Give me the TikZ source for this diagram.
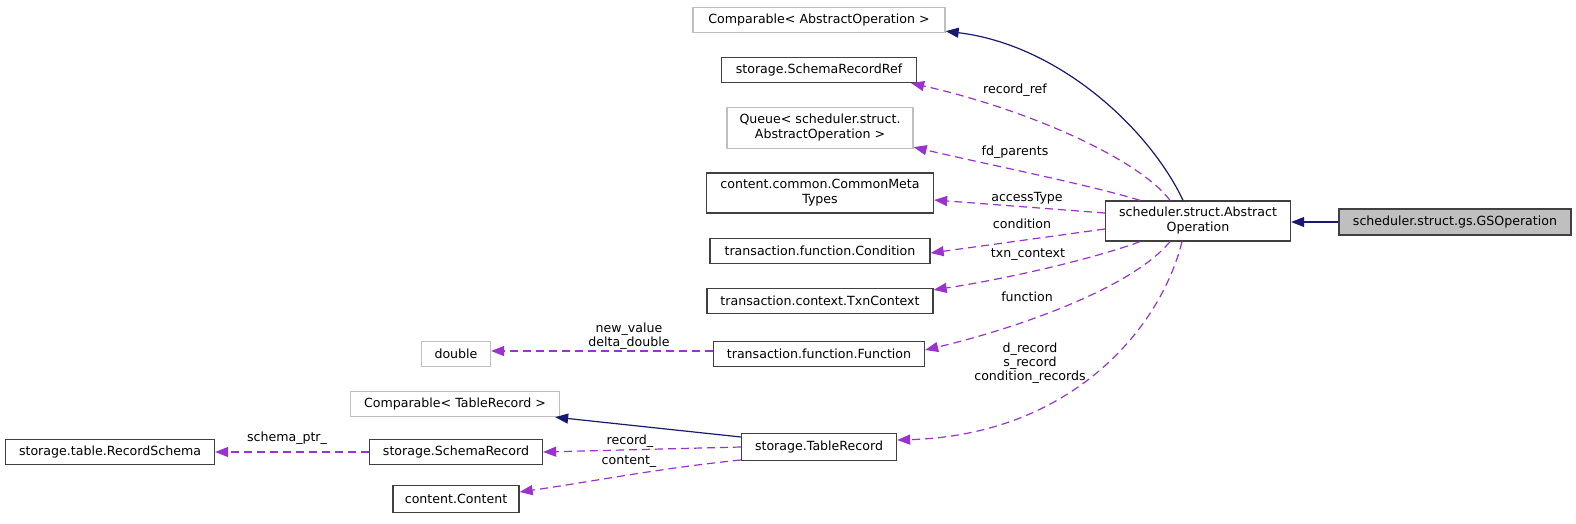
\documentclass[tikz,border=0pt]{standalone}
\usepackage{fontspec}
\setmainfont{DejaVu Sans}
\usetikzlibrary{arrows.meta}

\definecolor{edgenavy}{HTML}{191970}
\definecolor{edgeorchid}{HTML}{9A32CD}
\definecolor{boxgray}{HTML}{BFBFBF}

\begin{document}
\begin{tikzpicture}[
  x=1pt, y=-1pt,
  cls/.style={rectangle, draw=black!75, line width=1.3pt, inner sep=0pt,
              minimum height=25pt, align=center, font=\fontsize{12.6}{15}\selectfont},
  ext/.style={cls, draw=boxgray},
  cur/.style={cls, fill=boxgray},
  lbl/.style={font=\fontsize{12.6}{14}\selectfont, text=black, inner sep=0pt, align=center},
  inh/.style={-{Triangle[length=13pt, width=10pt]}, color=edgenavy, line width=1.2pt},
  use/.style={-{Triangle[length=13pt, width=10pt]}, color=edgeorchid, line width=1.2pt,
              dash pattern=on 8pt off 5pt}
]
\useasboundingbox (0,0) rectangle (1576,523);

% classes
\node[ext, minimum width=252pt] (cao) at (819,20) {Comparable< AbstractOperation >};
\node[cls, minimum width=195pt] (srr) at (819,70) {storage.SchemaRecordRef};
\node[ext, minimum width=186pt, minimum height=41pt] (que) at (820,128) {Queue< scheduler.struct.\\AbstractOperation >};
\node[cls, minimum width=227pt, minimum height=40pt] (cmt) at (820,193) {content.common.CommonMeta\\Types};
\node[cls, minimum width=220pt] (cond) at (820,251) {transaction.function.Condition};
\node[cls, minimum width=226pt] (txn) at (820,301) {transaction.context.TxnContext};
\node[cls, minimum width=211pt] (func) at (819,354) {transaction.function.Function};
\node[ext, minimum width=69pt] (dbl) at (456,354) {double};
\node[ext, minimum width=209pt] (ctr) at (455,404) {Comparable< TableRecord >};
\node[cls, minimum width=209pt] (rsc) at (110,452) {storage.table.RecordSchema};
\node[cls, minimum width=173pt] (sr) at (456,452) {storage.SchemaRecord};
\node[cls, minimum width=155pt, minimum height=27pt] (tr) at (819,447) {storage.TableRecord};
\node[cls, minimum width=126pt, minimum height=27pt] (con) at (456,499) {content.Content};
\node[cls, minimum width=185pt, minimum height=40pt] (ao) at (1198,221) {scheduler.struct.Abstract\\Operation};
\node[cur, minimum width=232pt, minimum height=26pt] (gs) at (1455,222) {scheduler.struct.gs.GSOperation};

% inheritance
\draw[inh] (gs.west) -- (ao.east |- gs.west);
\draw[inh] ([xshift=-15pt]ao.north) .. controls (1150,130) and (1060,45) .. ([yshift=2pt]cao.south east);
\draw[inh] ([yshift=10pt]tr.west) -- ([xshift=-5pt]ctr.south east);

% members
\draw[use] ([xshift=-28pt]ao.north) .. controls (1140,160) and (1030,110) .. ([xshift=-6pt]srr.south east)
  node[lbl, at={(1015,90)}] {record\_ref};
\draw[use] ([xshift=-58pt]ao.north) .. controls (1090,185) and (990,165) .. ([yshift=2pt]que.south east)
  node[lbl, at={(1015,152)}] {fd\_parents};
\draw[use] ([yshift=8pt]ao.west) -- ([yshift=-7pt]cmt.east)
  node[lbl, at={(1027,198)}] {accessType};
\draw[use] ([yshift=-8pt]ao.west) -- ([yshift=-2pt]cond.east)
  node[lbl, at={(1022,224)}] {condition};
\draw[use] ([xshift=-58pt]ao.south) .. controls (1090,260) and (1000,280) .. ([yshift=-2pt]txn.north east)
  node[lbl, at={(1028,255)}] {txn\_context};
\draw[use] ([xshift=-28pt]ao.south) .. controls (1130,290) and (1010,330) .. ([yshift=4pt]func.east)
  node[lbl, at={(1027,297)}] {function};
\draw[use] ([xshift=-16pt]ao.south) .. controls (1160,330) and (1070,435) .. ([yshift=7pt]tr.east)
  node[lbl, at={(1030,363)}] {d\_record\\s\_record\\condition\_records};
\draw[use] ([yshift=3pt]func.west) -- ([yshift=3pt]dbl.east)
  node[lbl, at={(629,336)}] {new\_value\\delta\_double};
\draw[use] (tr.west) -- (sr.east)
  node[lbl, at={(630,441)}] {record\_};
\draw[use] ([yshift=-13pt]tr.west) .. controls +(-80,8) and +(70,-10) .. ([yshift=7pt]con.east)
  node[lbl, at={(629,462)}] {content\_};
\draw[use] (sr.west) -- (rsc.east)
  node[lbl, at={(287,438)}] {schema\_ptr\_};

\end{tikzpicture}
\end{document}
